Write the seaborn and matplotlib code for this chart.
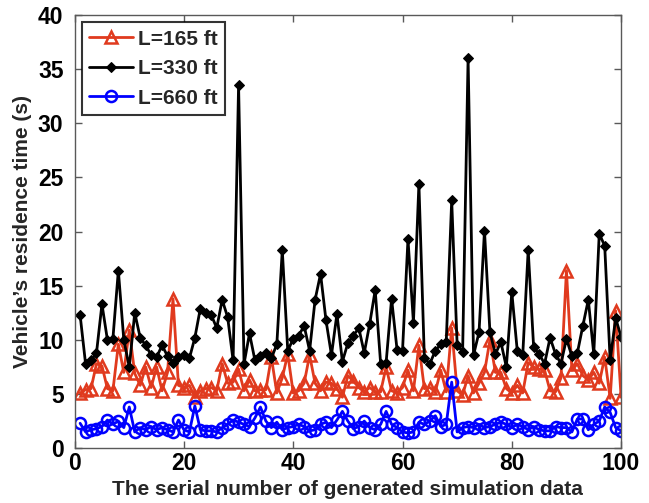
import pandas as pd
import matplotlib
matplotlib.use('Agg')
import matplotlib.pyplot as plt
import seaborn as sns

# serial number of the simulation runs
serial = list(range(1, 101))

# L = 165 ft
l165 = [5.1, 5.4, 5.5, 7.8, 7.6, 5.5, 5.3, 9.6, 7.0, 10.9,
        6.9, 5.8, 7.5, 5.6, 7.5, 5.3, 7.0, 13.8, 5.8, 5.6,
        5.8, 4.7, 5.3, 5.5, 5.6, 5.3, 7.8, 6.0, 6.1, 7.3,
        5.3, 6.3, 5.3, 5.4, 5.4, 8.4, 5.1, 6.5, 8.7, 5.1,
        5.3, 6.0, 8.6, 6.0, 5.3, 6.1, 6.0, 5.5, 4.7, 6.7,
        6.2, 5.6, 5.2, 5.6, 5.2, 5.2, 7.5, 5.3, 5.1, 5.6,
        7.2, 5.3, 9.5, 5.5, 5.6, 5.2, 7.2, 5.2, 11.1, 5.3,
        4.9, 6.7, 5.1, 6.0, 7.0, 10.0, 7.0, 7.0, 5.5, 5.1,
        5.8, 5.1, 7.9, 7.5, 7.3, 7.2, 5.3, 5.2, 6.5, 16.4,
        7.2, 7.8, 6.7, 6.3, 7.0, 6.0, 8.4, 4.6, 12.7, 4.7]

# L = 330 ft
l330 = [12.3, 7.8, 8.1, 8.8, 13.3, 10.0, 10.1, 16.4, 10.0, 7.5,
        12.5, 10.2, 9.5, 8.6, 8.4, 9.5, 8.5, 7.9, 8.4, 8.6,
        8.3, 10.2, 12.9, 12.5, 12.3, 11.1, 13.7, 12.1, 8.1, 33.5,
        7.8, 10.6, 8.1, 8.5, 8.8, 8.3, 9.6, 18.3, 9.0, 10.1,
        10.4, 11.3, 9.0, 13.7, 16.1, 11.8, 8.6, 12.4, 8.0, 9.7,
        10.4, 11.1, 8.8, 11.5, 14.6, 7.8, 7.9, 13.8, 9.1, 9.0,
        19.3, 11.6, 24.4, 8.3, 7.8, 9.0, 9.6, 9.8, 22.9, 9.5,
        8.9, 36.0, 8.6, 10.7, 20.1, 10.7, 8.7, 9.8, 7.5, 14.4,
        9.0, 8.6, 18.3, 9.3, 8.7, 7.8, 10.2, 8.7, 7.8, 10.1,
        8.5, 8.8, 11.3, 13.7, 8.7, 19.8, 18.7, 8.1, 12.0, 10.3]

# L = 660 ft
l660 = [2.3, 1.5, 1.7, 1.8, 2.0, 2.6, 2.2, 2.5, 1.9, 3.8,
        1.5, 1.9, 1.7, 2.0, 1.7, 1.9, 1.7, 1.5, 2.6, 1.7,
        1.5, 3.9, 1.7, 1.6, 1.6, 1.5, 1.9, 2.2, 2.6, 2.4,
        2.2, 2.0, 2.8, 3.8, 2.5, 1.9, 2.4, 1.7, 1.9, 2.0,
        2.2, 2.0, 1.6, 1.7, 2.2, 2.4, 1.9, 2.6, 3.4, 2.5,
        1.8, 2.0, 2.5, 1.9, 1.7, 2.2, 3.4, 2.2, 1.9, 1.5,
        1.4, 1.5, 2.4, 2.2, 2.5, 3.0, 2.0, 2.2, 6.1, 1.5,
        1.9, 2.0, 1.9, 2.2, 1.9, 2.0, 2.2, 2.4, 2.2, 1.9,
        2.2, 2.0, 1.7, 2.0, 1.7, 1.6, 1.6, 2.0, 1.9, 1.9,
        1.5, 2.7, 2.7, 1.7, 2.2, 2.5, 3.8, 3.3, 1.9, 1.6]

df = pd.DataFrame({'serial': serial, 'L=165 ft': l165, 'L=330 ft': l330, 'L=660 ft': l660})

sns.set_style('ticks')
plt.rcParams['font.family'] = ['Liberation Sans', 'DejaVu Sans']
plt.rcParams['font.weight'] = 'bold'

fig = plt.figure(figsize=(6.49, 5.03), dpi=100)
ax = fig.add_axes([0.115, 0.109, 0.842, 0.861])

red = '#E03A1E'
sns.lineplot(data=df, x='serial', y='L=165 ft', ax=ax, color=red, lw=2, marker='^',
             markersize=9, markerfacecolor='none', markeredgecolor=red, markeredgewidth=1.8,
             label='L=165 ft')
sns.lineplot(data=df, x='serial', y='L=330 ft', ax=ax, color='black', lw=2, marker='D',
             markersize=5.5, markerfacecolor='black', markeredgecolor='black',
             label='L=330 ft')
sns.lineplot(data=df, x='serial', y='L=660 ft', ax=ax, color='#0000FF', lw=2, marker='o',
             markersize=8, markerfacecolor='none', markeredgecolor='#0000FF', markeredgewidth=1.8,
             label='L=660 ft')

ax.set_xlim(0, 100)
ax.set_ylim(0, 40)
ax.set_xticks([0, 20, 40, 60, 80, 100])
ax.set_yticks(range(0, 41, 5))
ax.tick_params(direction='in', top=True, right=True, length=5, width=1, colors='0.35',
               labelcolor='black', labelsize=16.5)
ax.tick_params(axis='y', pad=8)
ax.tick_params(axis='x', pad=3)
for s in ax.spines.values():
    s.set_color('0.35')
    s.set_linewidth(1)
for t in ax.get_xticklabels() + ax.get_yticklabels():
    t.set_fontweight('bold')

ax.set_xlabel('The serial number of generated simulation data', fontsize=15, fontweight='bold', labelpad=3)
ax.set_ylabel('Vehicle\u2019s residence time (s)', fontsize=15, fontweight='bold', labelpad=4)

leg = ax.legend(loc='upper left', fontsize=15, frameon=True, fancybox=False, handlelength=2.1,
                handletextpad=0.25, borderpad=0.35, labelspacing=0.5, borderaxespad=0.35)
leg.get_frame().set_edgecolor('black')
leg.get_frame().set_linewidth(1.5)
for t in leg.get_texts():
    t.set_fontweight('bold')

fig.savefig('out.png', dpi=100)
